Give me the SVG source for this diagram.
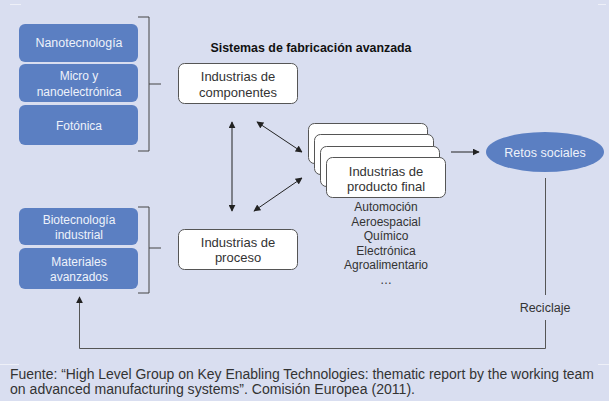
<svg xmlns="http://www.w3.org/2000/svg" width="609" height="401" viewBox="0 0 609 401">
<defs>
<marker id="ah" viewBox="0 0 10 10" refX="9" refY="5" markerWidth="7" markerHeight="7" orient="auto-start-reverse" markerUnits="userSpaceOnUse">
<path d="M0,0 L10,5 L0,10 z" fill="#222"/>
</marker>
<style>
.bg{fill:#d9def0}
.blue{fill:#5b7fc2}
.wbox{fill:#fff;stroke:#555;stroke-width:1}
.t{font-family:"Liberation Sans",Arial,sans-serif;fill:#333;text-anchor:middle}
.bt{font-family:"Liberation Sans",Arial,sans-serif;fill:#eef2fa;text-anchor:middle;font-size:12px}
.br{fill:none;stroke:#444;stroke-width:1}
.ar{fill:none;stroke:#222;stroke-width:1}
.rl{fill:none;stroke:#555;stroke-width:1}
.faint{stroke:#eef0f8;stroke-width:1}
</style>
</defs>
<rect class="bg" x="0" y="0" width="609" height="401"/>
<line class="faint" x1="10" y1="4.5" x2="21" y2="4.5"/>
<line class="faint" x1="598" y1="4.5" x2="606" y2="4.5"/>
<line class="faint" x1="0" y1="364.5" x2="19" y2="364.5"/>
<line class="faint" x1="598" y1="364.5" x2="609" y2="364.5"/>

<g id="nanotecnologia">
<rect class="blue" x="19" y="24" width="119" height="38" rx="6"/>
<text class="bt" x="79" y="47" textLength="87" lengthAdjust="spacingAndGlyphs">Nanotecnología</text>
</g>
<g id="micro">
<rect class="blue" x="19" y="64" width="119" height="38" rx="6"/>
<text class="bt" x="79" y="80">Micro y</text>
<text class="bt" x="79" y="96">nanoelectrónica</text>
</g>
<g id="fotonica">
<rect class="blue" x="19" y="105" width="119" height="40" rx="6"/>
<text class="bt" x="79" y="130">Fotónica</text>
</g>
<g id="biotecnologia">
<rect class="blue" x="19" y="208" width="119" height="37" rx="6"/>
<text class="bt" x="79" y="224">Biotecnología</text>
<text class="bt" x="79" y="239">industrial</text>
</g>
<g id="materiales">
<rect class="blue" x="19" y="248" width="119" height="41" rx="6"/>
<text class="bt" x="79" y="266">Materiales</text>
<text class="bt" x="79" y="281">avanzados</text>
</g>

<g id="brackets">
<path class="br" d="M138,17 H149 V151 H138 M149,84 H161"/>
<path class="br" d="M138,207 H149 V293 H138 M149,248 H161"/>
</g>

<g id="title">
<text class="t" x="311" y="52" font-size="13" font-weight="bold" style="fill:#111" textLength="201" lengthAdjust="spacingAndGlyphs">Sistemas de fabricación avanzada</text>
</g>

<g id="componentes">
<rect class="wbox" x="178.5" y="63.5" width="119" height="40" rx="6"/>
<text class="t" x="238" y="80.5" font-size="13">Industrias de</text>
<text class="t" x="238" y="96.5" font-size="13">componentes</text>
</g>

<g id="proceso">
<rect class="wbox" x="178.5" y="229.5" width="119" height="40" rx="6"/>
<text class="t" x="238" y="246.5" font-size="13">Industrias de</text>
<text class="t" x="238" y="262" font-size="13">proceso</text>
</g>

<g id="producto-final">
<rect class="wbox" x="308.5" y="123.5" width="119" height="40" rx="6"/>
<rect class="wbox" x="314.5" y="134.5" width="119" height="40" rx="6"/>
<rect class="wbox" x="320.5" y="146.5" width="119" height="40" rx="6"/>
<rect class="wbox" x="326.5" y="157.5" width="119" height="40" rx="6"/>
<text class="t" x="386" y="175.5" font-size="13">Industrias de</text>
<text class="t" x="386" y="190.5" font-size="13">producto final</text>
</g>

<g id="sectores">
<text class="t" x="386" y="211" font-size="12">Automoción</text>
<text class="t" x="386" y="225.5" font-size="12">Aeroespacial</text>
<text class="t" x="386" y="240" font-size="12">Químico</text>
<text class="t" x="386" y="254.5" font-size="12">Electrónica</text>
<text class="t" x="386" y="269" font-size="12">Agroalimentario</text>
<text class="t" x="386" y="283.5" font-size="12">…</text>
</g>

<g id="retos">
<ellipse class="blue" cx="545" cy="152" rx="59" ry="20"/>
<text class="bt" x="545" y="156.5" style="font-size:12.5px">Retos sociales</text>
</g>

<g id="connectors">
<line class="ar" x1="232" y1="122" x2="232" y2="211" marker-start="url(#ah)" marker-end="url(#ah)"/>
<line class="ar" x1="257" y1="122" x2="302" y2="152" marker-start="url(#ah)" marker-end="url(#ah)"/>
<line class="ar" x1="254" y1="211" x2="302" y2="178" marker-start="url(#ah)" marker-end="url(#ah)"/>
<line class="ar" x1="451" y1="152" x2="479" y2="152" marker-end="url(#ah)"/>
<line class="rl" x1="545.5" y1="178" x2="545.5" y2="295"/>
<path class="rl" d="M545.5,320 V348.5 H79.5 V297" marker-end="url(#ah)"/>
<text class="t" x="545" y="312" font-size="12.5">Reciclaje</text>
</g>

<g id="fuente">
<text x="10" y="379" font-family="Liberation Sans, Arial, sans-serif" font-size="14" fill="#333" textLength="584" lengthAdjust="spacingAndGlyphs">Fuente: “High Level Group on Key Enabling Technologies: thematic report by the working team</text>
<text x="10" y="394" font-family="Liberation Sans, Arial, sans-serif" font-size="14" fill="#333" textLength="405" lengthAdjust="spacingAndGlyphs">on advanced manufacturing systems”. Comisión Europea (2011).</text>
</g>
</svg>
